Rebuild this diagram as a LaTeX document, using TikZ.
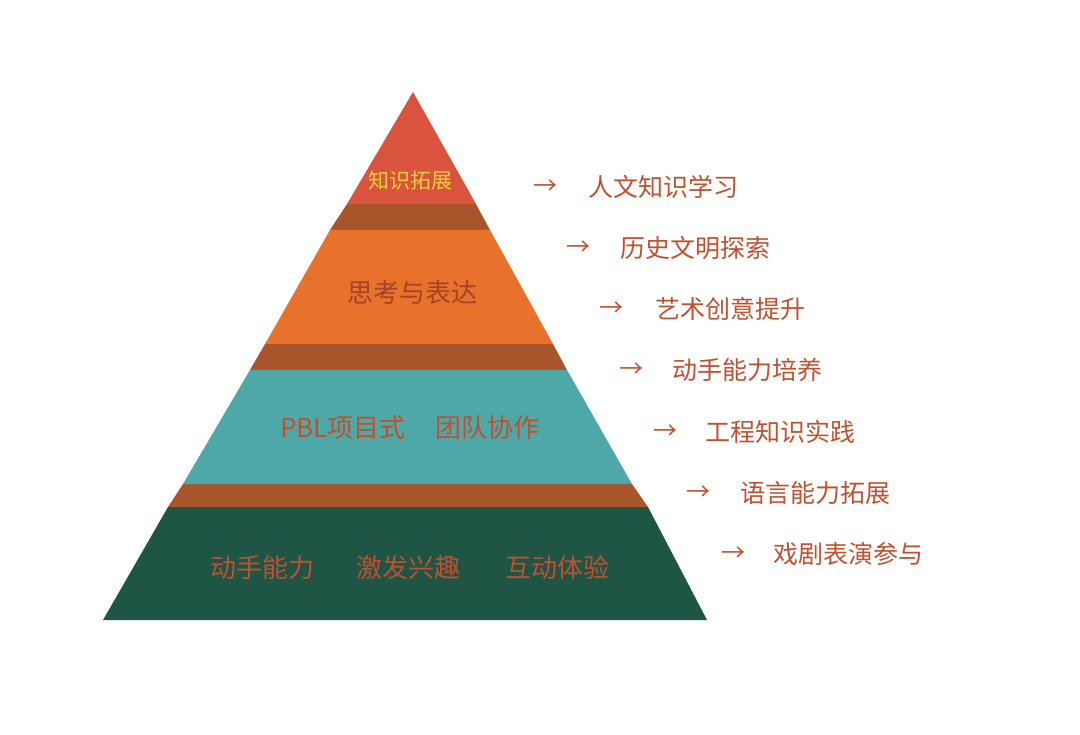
\documentclass[tikz,border=0pt]{standalone}
\usepackage{fontspec}
\newfontfamily\cjk{Noto Sans CJK SC}
\definecolor{ctop}{HTML}{D9533F}
\definecolor{corange}{HTML}{E8722B}
\definecolor{cteal}{HTML}{4EA8A8}
\definecolor{cgreen}{HTML}{1F5544}
\definecolor{cshadow}{HTML}{A9552B}
\definecolor{ctext}{HTML}{C0502F}
\definecolor{cyel}{HTML}{F2D23A}
\tikzset{lbl/.style={font=\cjk\fontsize{25}{25}\selectfont, text=ctext, anchor=west, inner sep=0pt},
 ptxt/.style={font=\cjk\fontsize{26}{26}\selectfont, text=ctext, inner sep=0pt},
 arr/.style={font=\cjk\fontsize{24}{24}\selectfont, text=ctext, inner sep=0pt}}
\begin{document}
\begin{tikzpicture}[x=1pt,y=-1pt]
\useasboundingbox (0,0) rectangle (1080,735);
% shadows
\fill[cshadow] (347,204) -- (476,204) -- (490,230) -- (330,230) -- cycle;
\fill[cshadow] (265,344) -- (553,344) -- (567,370) -- (250,370) -- cycle;
\fill[cshadow] (183,484) -- (632,484) -- (648,507) -- (168,507) -- cycle;
% tiers
\fill[ctop] (413,92) -- (476,204) -- (347,204) -- cycle;
\fill[corange] (330,230) -- (490,230) -- (553,344) -- (265,344) -- cycle;
\fill[cteal] (250,370) -- (567,370) -- (632,484) -- (183,484) -- cycle;
\fill[cgreen] (168,507) -- (648,507) -- (707,620) -- (103,620) -- cycle;
% tier texts
\node[ptxt, text=cyel, font=\cjk\fontsize{21}{21}\selectfont] (t1) at (410,181) {知识拓展};
\node[ptxt, text=ctext!85!black] (t2) at (412,293) {思考与表达};
\node[ptxt] (t3) at (410,428) {PBL项目式\hspace{30pt}团队协作};
\node[ptxt] (t4a) at (262,568) {动手能力};
\node[ptxt] (t4b) at (408,568) {激发兴趣};
\node[ptxt] (t4c) at (557,568) {互动体验};
% labels
\node[arr] (a1) at (545,187) {→}; \node[lbl] (l1) at (588,187) {人文知识学习};
\node[arr] (a2) at (578,248) {→}; \node[lbl] (l2) at (620,248) {历史文明探索};
\node[arr] (a3) at (611,309) {→}; \node[lbl] (l3) at (655,309) {艺术创意提升};
\node[arr] (a4) at (631,370) {→}; \node[lbl] (l4) at (672,370) {动手能力培养};
\node[arr] (a5) at (665,432) {→}; \node[lbl] (l5) at (705,432) {工程知识实践};
\node[arr] (a6) at (698,493) {→}; \node[lbl] (l6) at (740,493) {语言能力拓展};
\node[arr] (a7) at (733,554) {→}; \node[lbl] (l7) at (773,554) {戏剧表演参与};
\end{tikzpicture}
\end{document}
